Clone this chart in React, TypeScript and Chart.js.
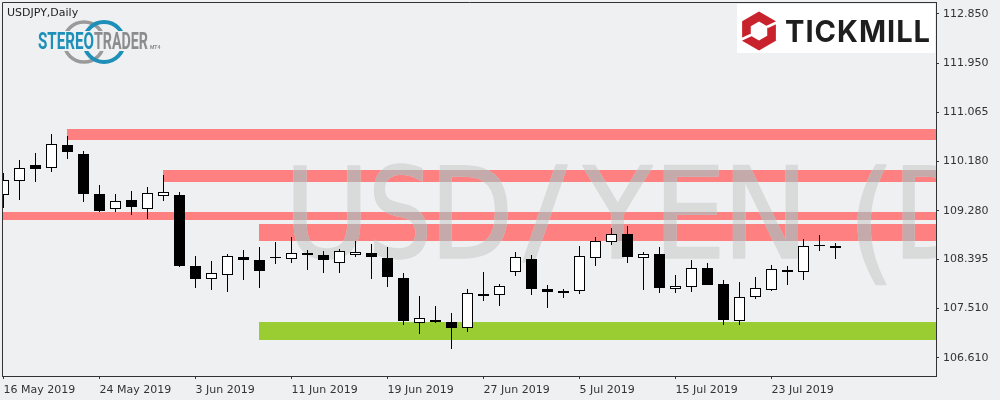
import { useEffect, useRef } from "react";
import { Chart, registerables } from "chart.js";

Chart.register(...registerables);

const opens = [
  109.561, 109.815, 110.111, 110.051, 110.474, 110.31, 109.585, 109.307, 109.476, 109.318,
  109.543, 109.567, 108.279, 108.038, 108.11, 108.442, 108.388, 108.442, 108.4, 108.515,
  108.478, 108.328, 108.473, 108.515, 108.418, 108.056, 107.239, 107.299, 107.257, 107.149,
  107.771, 107.747, 108.164, 108.4, 107.861, 107.783, 107.82, 108.418, 108.719, 108.859,
  108.418, 108.496, 107.856, 107.892, 108.242, 107.952, 107.276, 107.711, 107.849, 108.201,
  108.164, 108.66, 108.636,
];
const highs = [
  109.971, 110.202, 110.329, 110.673, 110.637, 110.365, 109.748, 109.585, 109.639, 109.706,
  109.929, 109.621, 108.46, 108.369, 108.496, 108.569, 108.623, 108.714, 108.805, 108.564,
  108.551, 108.587, 108.732, 108.678, 108.623, 108.152, 107.735, 107.553, 107.426, 107.861,
  108.17, 107.952, 108.533, 108.478, 107.934, 107.861, 108.642, 108.805, 108.968, 109.004,
  108.527, 108.623, 108.115, 108.388, 108.333, 108.025, 107.988, 108.079, 108.297, 108.279,
  108.768, 108.841, 108.696,
];
const lows = [
  109.336, 109.481, 109.808, 109.984, 110.22, 109.445, 109.258, 109.258, 109.209, 109.137,
  109.463, 108.266, 107.885, 107.849, 107.812, 108.03, 107.885, 108.32, 108.339, 108.212,
  108.157, 108.157, 108.447, 108.048, 107.903, 107.214, 107.051, 107.25, 106.779, 107.087,
  107.649, 107.553, 108.103, 107.758, 107.522, 107.704, 107.776, 108.284, 108.665, 108.339,
  107.849, 107.794, 107.794, 107.812, 107.939, 107.214, 107.214, 107.686, 107.825, 107.939,
  108.03, 108.556, 108.411,
];
const closes = [
  109.839, 110.051, 110.038, 110.486, 110.347, 109.59, 109.282, 109.452, 109.349, 109.597,
  109.616, 108.284, 108.048, 108.146, 108.455, 108.388, 108.193, 108.424, 108.509, 108.484,
  108.388, 108.545, 108.527, 108.447, 108.085, 107.286, 107.33, 107.268, 107.159, 107.783,
  107.74, 107.91, 108.436, 107.867, 107.812, 107.82, 108.455, 108.727, 108.854, 108.447,
  108.491, 107.885, 107.91, 108.237, 107.939, 107.305, 107.711, 107.874, 108.219, 108.175,
  108.642, 108.636, 108.611,
];

const priceTicks = [112.85, 111.95, 111.065, 110.18, 109.28, 108.395, 107.51, 106.61];
const dateTicks = [0, 6, 12, 18, 24, 30, 36, 42, 48];
const dateLabels = [
  "16 May 2019",
  "24 May 2019",
  "3 Jun 2019",
  "11 Jun 2019",
  "19 Jun 2019",
  "27 Jun 2019",
  "5 Jul 2019",
  "15 Jul 2019",
  "23 Jul 2019",
];

// resistance / support zones: first bar, lower and upper price
const redZoneStart = [4, 10, 0, 16];
const redZoneLow = [110.564, 109.802, 109.113, 108.732];
const redZoneHigh = [110.764, 110.02, 109.258, 109.041];
const greenZoneStart = [16];
const greenZoneLow = [106.936];
const greenZoneHigh = [107.263];

const BG = "#eef0f2";
const RED_ZONE = "#ff8080";
const GREEN_ZONE = "#9acd32";
const AXIS = "#333333";
const TICK_FONT = { family: "'DejaVu Sans'", size: 11 };

// the watermark letters, each one fitted to a box: char, left, right, top, bottom
const WATERMARK: [string, number, number, number, number][] = [
  ["U", 294, 360, 166, 259],
  ["S", 374, 427, 164, 259],
  ["D", 440, 507, 165, 258],
  ["/", 523, 568, 165, 262],
  ["Y", 582, 653, 165, 258],
  ["E", 664, 719, 165, 258],
  ["N", 733, 798, 165, 258],
  ["(", 858, 886, 165, 285],
  ["D", 903, 970, 165, 258],
];

function drawWatermark(ctx: CanvasRenderingContext2D, color: string) {
  ctx.font = "128px 'DejaVu Sans'";
  ctx.textAlign = "left";
  ctx.textBaseline = "alphabetic";
  ctx.fillStyle = color;
  ctx.strokeStyle = color;
  ctx.lineWidth = 1.5;
  ctx.lineJoin = "round";
  WATERMARK.forEach(([ch, left, right, top, bottom]) => {
    const m = ctx.measureText(ch);
    const w = m.actualBoundingBoxRight + m.actualBoundingBoxLeft;
    const h = m.actualBoundingBoxAscent + m.actualBoundingBoxDescent;
    ctx.save();
    ctx.translate(left, top);
    ctx.scale((right - left) / w, (bottom - top) / h);
    ctx.fillText(ch, m.actualBoundingBoxLeft, m.actualBoundingBoxAscent);
    ctx.strokeText(ch, m.actualBoundingBoxLeft, m.actualBoundingBoxAscent);
    ctx.restore();
  });
}

// MT4 draws on whole pixels, so snap the bars the same way
const snapPlugin = {
  id: "snap",
  afterDatasetsUpdate(chart: any) {
    chart.getSortedVisibleDatasetMetas().forEach((meta: any) => {
      meta.data.forEach((bar: any) => {
        const top = Math.round(Math.min(bar.y, bar.base));
        let bottom = Math.round(Math.max(bar.y, bar.base));
        if (bottom - top < 1) bottom = top + 1;
        bar.y = top;
        bar.base = bottom;
        bar.height = bottom - top;
      });
    });
  },
};

const zonesPlugin = {
  id: "zones",
  beforeDatasetsDraw(chart: any) {
    const { ctx, chartArea, scales } = chart;
    ctx.save();
    ctx.beginPath();
    ctx.rect(chartArea.left, chartArea.top, chartArea.width, chartArea.height);
    ctx.clip();

    const rects: number[][] = [];
    const addZones = (starts: number[], low: number[], high: number[], color: string) => {
      starts.forEach((start, i) => {
        const x = scales.x.getPixelForValue(start) - 0.5;
        const top = Math.round(scales.y.getPixelForValue(high[i]));
        const h = Math.round(scales.y.getPixelForValue(low[i])) - top;
        ctx.fillStyle = color;
        ctx.fillRect(x, top, chartArea.right - x, h);
        if (color === RED_ZONE) rects.push([x, top, chartArea.right - x, h]);
      });
    };
    addZones(redZoneStart, redZoneLow, redZoneHigh, RED_ZONE);
    addZones(greenZoneStart, greenZoneLow, greenZoneHigh, GREEN_ZONE);

    drawWatermark(ctx, "rgb(217,218,218)");
    // the big label shows darker where it crosses a red zone
    ctx.beginPath();
    rects.forEach((r) => ctx.rect(r[0], r[1], r[2], r[3]));
    ctx.clip();
    drawWatermark(ctx, "rgb(196,170,170)");
    ctx.restore();
  },
};

function drawStereoLogo(ctx: CanvasRenderingContext2D) {
  ctx.lineWidth = 3.5;
  ctx.strokeStyle = "#9a9a9a";
  ctx.beginPath();
  ctx.arc(84, 42, 20, 0, Math.PI * 2);
  ctx.stroke();
  ctx.lineWidth = 4;
  ctx.strokeStyle = "#1d8fb8";
  ctx.beginPath();
  ctx.arc(104, 42, 20, 0, Math.PI * 2);
  ctx.stroke();

  ctx.fillStyle = BG;
  ctx.fillRect(36, 31, 114, 20);

  ctx.textAlign = "left";
  ctx.textBaseline = "alphabetic";
  ctx.font = "bold 23px Roboto";
  ctx.fillStyle = "#1d8fb8";
  ctx.fillText("STEREO", 38, 49, 56);
  ctx.fillStyle = "#8c8c8c";
  ctx.fillText("TRADER", 94, 49, 54);
  ctx.font = "bold 5px Roboto";
  ctx.fillText("MT4", 150, 49);
}

function drawTickmillLogo(ctx: CanvasRenderingContext2D) {
  ctx.fillStyle = "#ffffff";
  ctx.fillRect(737, 4, 198, 49);

  const hexagon = (r: number) => {
    ctx.beginPath();
    for (let k = 0; k < 6; k++) {
      const a = -Math.PI / 2 + (k * Math.PI) / 3;
      const px = 759 + r * Math.cos(a);
      const py = 31 + r * Math.sin(a);
      if (k === 0) ctx.moveTo(px, py);
      else ctx.lineTo(px, py);
    }
    ctx.closePath();
    ctx.fill();
  };
  ctx.fillStyle = "#c8232c";
  hexagon(19.5);
  ctx.fillStyle = "#ffffff";
  hexagon(9.5);

  ctx.strokeStyle = "#ffffff";
  ctx.lineWidth = 2.5;
  ctx.beginPath();
  ctx.moveTo(767, 27);
  ctx.lineTo(780, 21);
  ctx.moveTo(751, 35);
  ctx.lineTo(738, 41);
  ctx.stroke();

  ctx.fillStyle = "#1e1e1e";
  ctx.font = "700 30px Inter";
  (ctx as any).letterSpacing = "1px";
  ctx.textAlign = "left";
  ctx.textBaseline = "alphabetic";
  ctx.fillText("TICKMILL", 785, 42, 146);
  (ctx as any).letterSpacing = "0px";
}

const framePlugin = {
  id: "frame",
  afterDraw(chart: any) {
    const { ctx } = chart;
    ctx.save();
    ctx.strokeStyle = AXIS;
    ctx.lineWidth = 1;
    ctx.beginPath();
    ctx.moveTo(2.5, 377);
    ctx.lineTo(2.5, 2.5);
    ctx.lineTo(937, 2.5);
    ctx.stroke();

    ctx.fillStyle = "#222222";
    ctx.font = "11px 'DejaVu Sans'";
    ctx.textAlign = "left";
    ctx.textBaseline = "alphabetic";
    ctx.fillText("USDJPY,Daily", 7, 16);

    drawStereoLogo(ctx);
    drawTickmillLogo(ctx);
    ctx.restore();
  },
};

export default function App() {
  const canvasRef = useRef<HTMLCanvasElement>(null);

  useEffect(() => {
    if (!canvasRef.current) return;
    document.body.style.margin = "0";
    const indexes = opens.map((_, i) => i);

    const chart = new Chart(canvasRef.current, {
      type: "bar",
      data: {
        datasets: [
          {
            label: "body",
            data: indexes.map((i) => ({ x: i, y: [opens[i], closes[i]] })),
            grouped: false,
            order: 1,
            barThickness: 11,
            inflateAmount: 0,
            borderWidth: 1,
            borderColor: "#000000",
            borderSkipped: false,
            backgroundColor: indexes.map((i) =>
              closes[i] > opens[i] ? "#ffffff" : "#000000"
            ),
          },
          {
            label: "wick",
            data: indexes.map((i) => ({ x: i, y: [lows[i], highs[i]] })),
            grouped: false,
            order: 2,
            barThickness: 1,
            inflateAmount: 0,
            borderWidth: 0,
            backgroundColor: "#000000",
          },
        ] as any,
      },
      options: {
        responsive: false,
        animation: false,
        layout: { padding: { left: 3, top: 3, right: 0, bottom: 0 } },
        plugins: {
          legend: { display: false },
          tooltip: { enabled: false },
          title: { display: false },
        },
        scales: {
          x: {
            type: "linear",
            offset: false,
            min: -0.03125,
            max: 58.28125,
            afterFit(scale: any) {
              scale.height = 24;
              scale.paddingLeft = 0;
              scale.paddingRight = 0;
            },
            afterBuildTicks(scale: any) {
              scale.ticks = dateTicks.map((value) => ({ value }));
            },
            border: { color: AXIS },
            grid: {
              offset: false,
              drawOnChartArea: false,
              color: AXIS,
              tickLength: 3,
            },
            ticks: {
              autoSkip: false,
              maxRotation: 0,
              align: "start",
              padding: 5,
              color: AXIS,
              font: TICK_FONT,
              callback: (_v: any, i: number) => dateLabels[i],
            },
          },
          y: {
            type: "linear",
            position: "right",
            min: 106.283,
            max: 113.0495,
            afterFit(scale: any) {
              scale.width = 64;
              scale.paddingTop = 0;
              scale.paddingBottom = 0;
            },
            afterBuildTicks(scale: any) {
              scale.ticks = priceTicks.map((value) => ({ value }));
            },
            border: { color: AXIS },
            grid: {
              drawOnChartArea: false,
              color: AXIS,
              tickLength: 3,
            },
            ticks: {
              padding: 4,
              color: AXIS,
              font: TICK_FONT,
              callback: (v: any) => Number(v).toFixed(3),
            },
          },
        },
      } as any,
      plugins: [snapPlugin, zonesPlugin, framePlugin],
    });

    return () => {
      chart.destroy();
    };
  }, []);

  return (
    <div style={{ width: 1000, height: 400, background: BG }}>
      <canvas ref={canvasRef} width={1000} height={400} style={{ display: "block" }} />
    </div>
  );
}
